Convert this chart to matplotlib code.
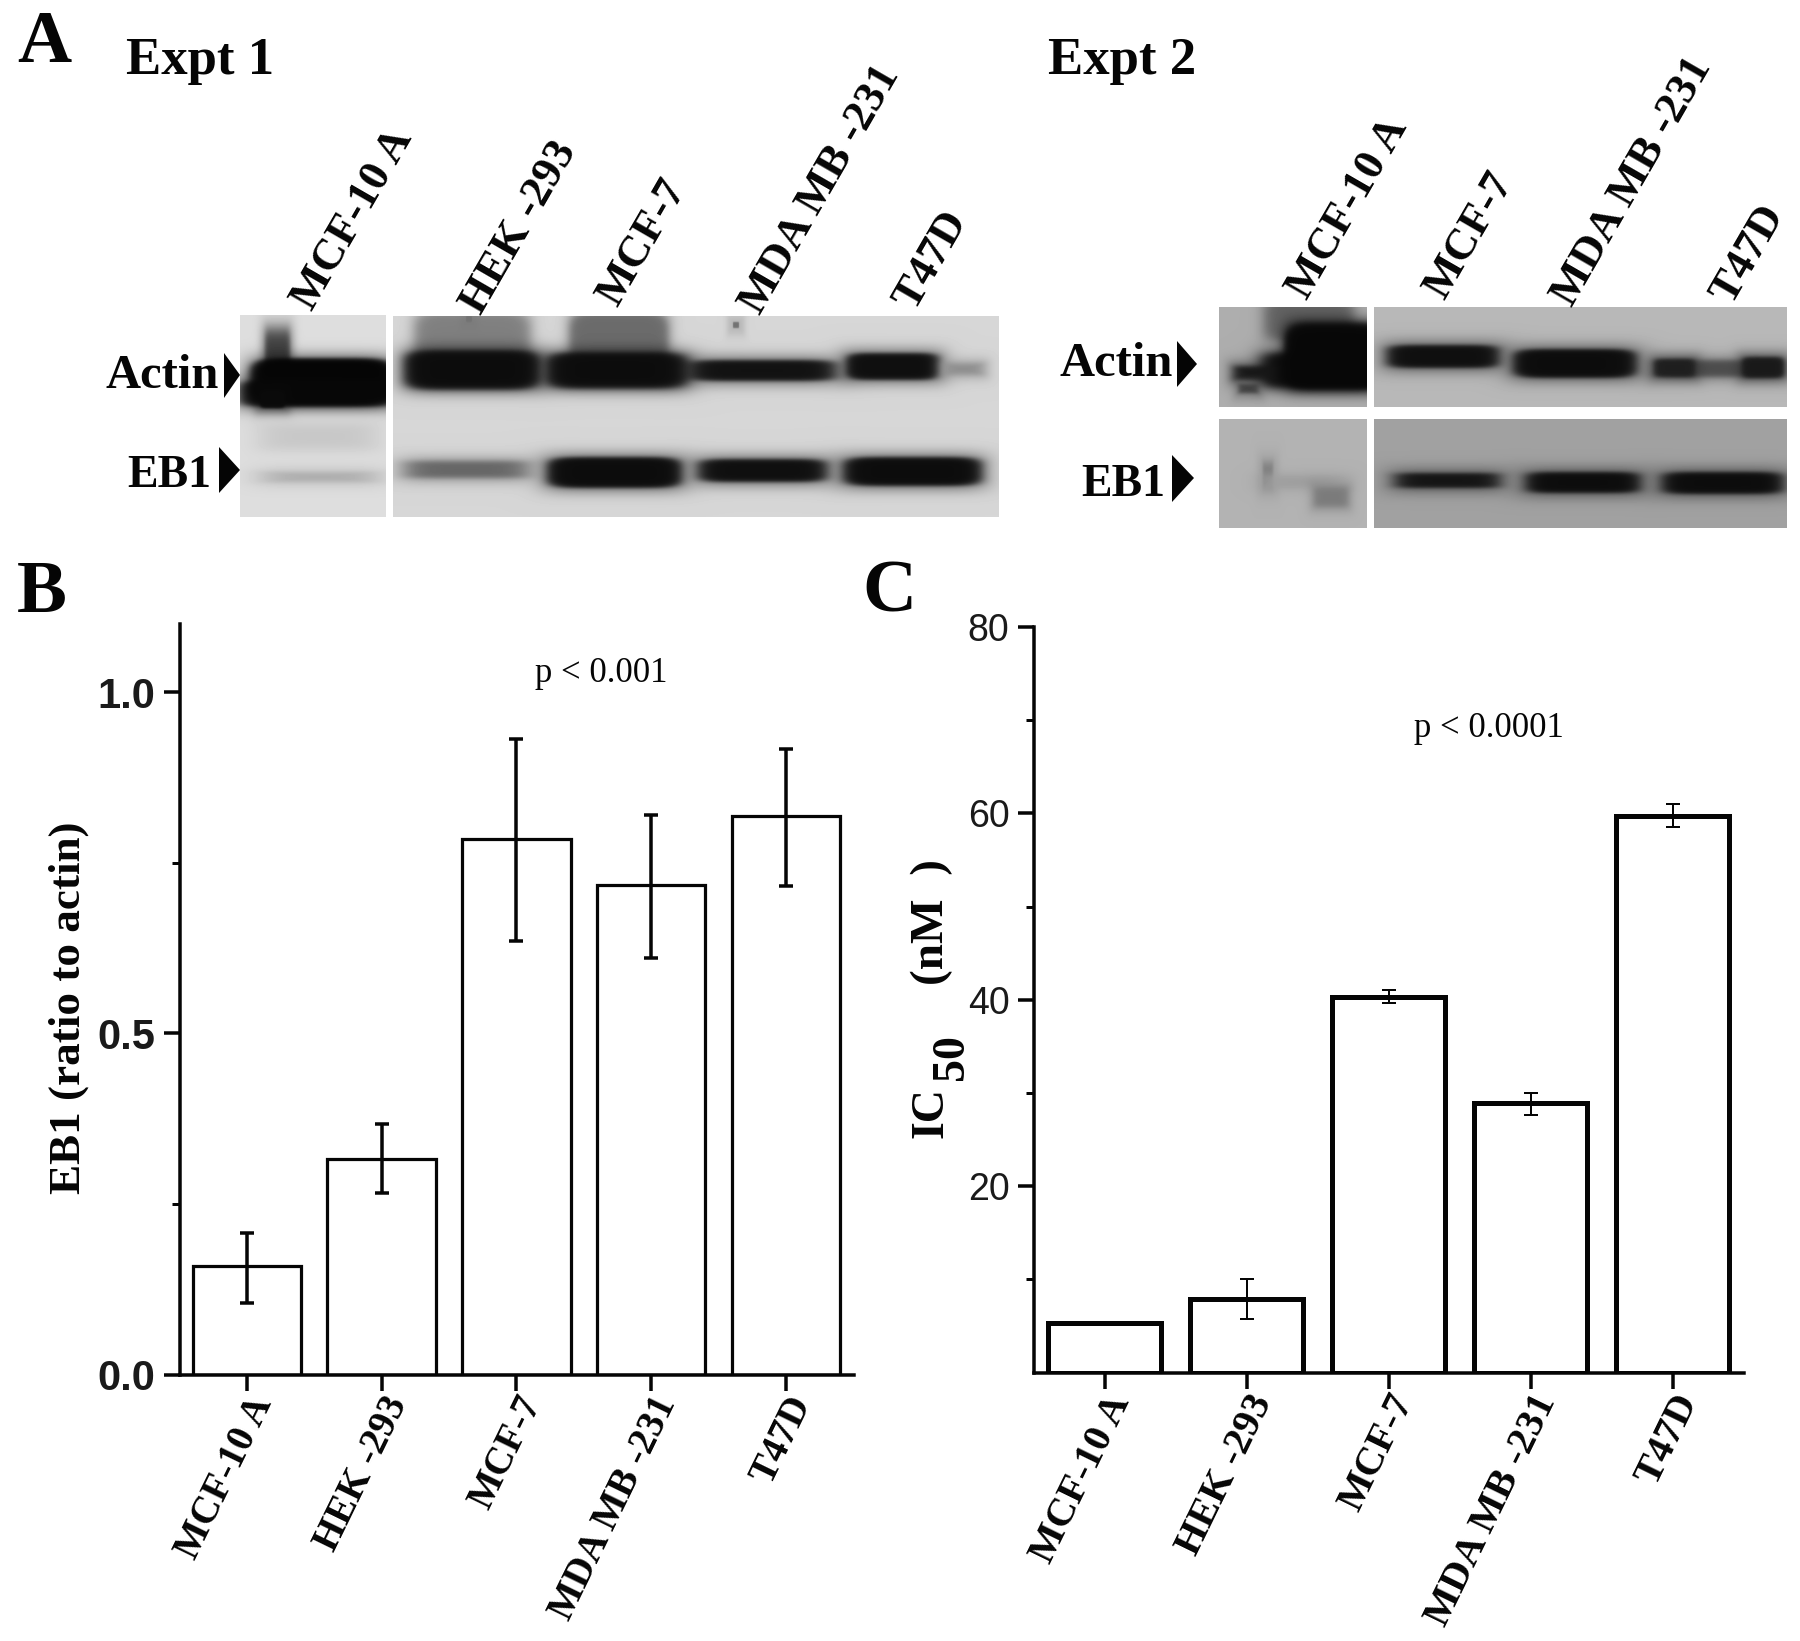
import numpy as np
import matplotlib
matplotlib.use('Agg')
import matplotlib.pyplot as plt
from matplotlib.patches import Polygon

W, H = 1800, 1641
PX = 0.72  # points per pixel at dpi 100
SERIF = 'Liberation Serif'
SANS = 'Liberation Sans'
INK = '#050505'

cell_lines = ['MCF-10 A', 'HEK -293', 'MCF-7', 'MDA MB -231', 'T47D']

# === Panel B values ===
eb1_ratio = [0.159, 0.316, 0.785, 0.717, 0.818]
eb1_low = [0.105, 0.266, 0.635, 0.610, 0.716]
eb1_high = [0.208, 0.367, 0.931, 0.820, 0.917]

# === Panel C values ===
ic50 = [5.3, 7.9, 40.3, 28.9, 59.7]
ic50_low = [5.3, 5.7, 39.7, 27.6, 58.5]
ic50_high = [5.3, 10.05, 41.0, 30.05, 61.0]

# === Blot bands: x0, x1, y0, y1, grey level, edge softness (px) ===
expt1_left = [
    (265, 290, 330, 385, 0.25, 5), (250, 395, 358, 402, 0.02, 3), (240, 395, 380, 407, 0.03, 3),
    (260, 285, 390, 408, 0.04, 2), (265, 372, 425, 448, 0.78, 8), (268, 372, 472, 482, 0.68, 4),
]
expt1_right = [
    (416, 529, 312, 365, 0.50, 6), (570, 668, 312, 365, 0.42, 5), (404, 541, 350, 390, 0.05, 4),
    (545, 688, 352, 389, 0.05, 4), (688, 836, 360, 381, 0.07, 3), (846, 940, 353, 380, 0.06, 3),
    (944, 983, 363, 375, 0.55, 5), (407, 526, 461, 478, 0.40, 4), (547, 682, 457, 488, 0.05, 3),
    (698, 827, 459, 482, 0.06, 3), (843, 982, 457, 486, 0.05, 3),
    (466, 472, 316, 322, 0.45, 1), (733, 739, 322, 328, 0.45, 1),
]
expt2_top_left = [
    (1266, 1352, 300, 340, 0.38, 6), (1284, 1385, 322, 390, 0.03, 5), (1262, 1385, 352, 388, 0.03, 5),
    (1234, 1275, 366, 380, 0.08, 4), (1239, 1258, 384, 393, 0.25, 3),
]
expt2_top_right = [
    (1387, 1499, 345, 368, 0.06, 3), (1513, 1637, 349, 378, 0.05, 3), (1656, 1782, 360, 377, 0.30, 4),
    (1654, 1695, 359, 377, 0.12, 3), (1742, 1784, 357, 378, 0.10, 3),
]
expt2_bottom_left = [
    (1263, 1273, 463, 487, 0.48, 3), (1265, 1340, 476, 488, 0.62, 5), (1314, 1348, 487, 507, 0.48, 5),
]
expt2_bottom_right = [
    (1396, 1499, 473, 488, 0.08, 3), (1526, 1640, 472, 493, 0.05, 3), (1662, 1783, 472, 494, 0.05, 3),
]


def draw_blot(ax, x0, x1, y0, y1, bg, bands):
    xx, yy = np.meshgrid(np.arange(x0, x1) + 0.5, np.arange(y0, y1) + 0.5)
    img = np.full(xx.shape, bg, dtype=float)

    def blob(bx0, bx1, by0, by1, soft):
        # rounded bar, sharp enough in the middle and soft at the rim
        a, b = (bx1 - bx0) / 2, (by1 - by0) / 2
        rx = np.abs(xx - (bx0 + bx1) / 2) / a
        ry = np.abs(yy - (by0 + by1) / 2) / b
        r = (rx ** 6 + ry ** 4) ** (1 / 4)
        return 1 / (1 + np.exp(np.clip((r - 1) * min(a, b) / (soft / 2.5), -30, 30)))

    for bx0, bx1, by0, by1, level, soft in bands:
        halo = blob(bx0 - 5, bx1 + 5, by0 - 6, by1 + 6, 8) * 0.35
        img = img * (1 - halo) + level * halo
        mask = blob(bx0, bx1, by0, by1, soft)
        img = img * (1 - mask) + level * mask
    ax.imshow(img, extent=(x0, x1, y1, y0), cmap='gray', vmin=0, vmax=1,
              aspect='auto', interpolation='bilinear', zorder=1)


def bar_panel(left, right, top, bottom, first_tick, step, bar_w, values, low, high, ymax,
              bar_lw, err_lw, cap_size, label_size):
    ax = fig.add_axes([left / W, 1 - bottom / H, (right - left) / W, (bottom - top) / H])
    x = np.arange(len(values))
    vals = np.array(values)
    err = [vals - np.array(low), np.array(high) - vals]
    ax.bar(x, vals, width=bar_w, facecolor='white', edgecolor=INK, linewidth=bar_lw * PX, zorder=2)
    shown = np.array(high) > vals  # first bar of panel C has no visible error bar
    ax.errorbar(x[shown], vals[shown], yerr=[err[0][shown], err[1][shown]], fmt='none', ecolor=INK,
                elinewidth=err_lw * PX, capsize=cap_size * PX / 2, capthick=err_lw * PX, zorder=3)
    ax.set_xlim((left - first_tick) / step, (right - first_tick) / step)
    ax.set_ylim(0, ymax)
    ax.set_xticks(x)
    ax.set_xticklabels(cell_lines, rotation=64, ha='right', rotation_mode='anchor',
                       family=SERIF, fontweight='bold', fontsize=label_size, color=INK)
    for side in ['top', 'right']:
        ax.spines[side].set_visible(False)
    for side in ['left', 'bottom']:
        ax.spines[side].set_linewidth(3.5 * PX)
        ax.spines[side].set_color(INK)
    ax.spines['bottom'].set_zorder(4)
    ax.tick_params(axis='x', length=16 * PX, width=3.5 * PX, color=INK, pad=0)
    ax.tick_params(axis='y', which='major', length=16 * PX, width=3.5 * PX, color=INK, pad=6)
    ax.tick_params(axis='y', which='minor', length=8 * PX, width=3 * PX, color=INK)
    return ax


fig = plt.figure(figsize=(W / 100, H / 100), dpi=100, facecolor='white')

# overlay in image pixel coordinates for the blots and free labels
ov = fig.add_axes([0, 0, 1, 1])
ov.set_zorder(10)
ov.axis('off')

# === Panel A blots ===
draw_blot(ov, 240, 386, 315, 517, 0.87, expt1_left)
draw_blot(ov, 393, 999, 316, 517, 0.84, expt1_right)
draw_blot(ov, 1219, 1367, 307, 407, 0.68, expt2_top_left)
draw_blot(ov, 1374, 1787, 307, 407, 0.72, expt2_top_right)
draw_blot(ov, 1219, 1367, 419, 528, 0.70, expt2_bottom_left)
draw_blot(ov, 1374, 1787, 419, 528, 0.63, expt2_bottom_right)
ov.set_xlim(0, W)
ov.set_ylim(H, 0)


def serif(x, y, s, size, rotation=0, ha='left', weight='bold', **kw):
    ov.text(x, y, s, family=SERIF, fontweight=weight, fontsize=size, rotation=rotation, ha=ha,
            va='baseline', rotation_mode='anchor', color=INK, zorder=5, **kw)


serif(17, 62, 'A', 54)
serif(17, 612, 'B', 54)
serif(862, 612, 'C', 54)
serif(126, 74, 'Expt 1', 38)
serif(1048, 74, 'Expt 2', 38)

# arrow heads next to the band names
for pts in [[(224, 353), (240, 375), (224, 398)], [(219, 447), (240, 470), (219, 493)],
            [(1177, 341), (1197, 364), (1177, 387)], [(1172, 455), (1194, 478), (1172, 502)]]:
    ov.add_patch(Polygon(pts, closed=True, facecolor=INK, edgecolor='none', zorder=5))

serif(105, 388, 'Actin', 35)
serif(127, 487, 'EB1', 33)
serif(1060, 376, 'Actin', 35)
serif(1081, 496, 'EB1', 33)

# lane labels over the blots
for name, x, y in [('MCF-10 A', 312, 312), ('HEK -293', 481, 316), ('MCF-7', 617, 308),
                   ('MDA MB -231', 760, 316), ('T47D', 914, 312)]:
    serif(x, y, name, 32, rotation=60)
for name, x, y in [('MCF-10 A', 1307, 301), ('MCF-7', 1444, 301), ('MDA MB -231', 1572, 308),
                   ('T47D', 1731, 306)]:
    serif(x, y, name, 32, rotation=60)

# === Panel B ===
axb = bar_panel(179.6, 854, 624.5, 1374.5, 247, 134.7, 0.805, eb1_ratio, eb1_low, eb1_high, 1.099,
                3.2, 3.5, 14, 28)
axb.set_yticks([0.0, 0.5, 1.0])
axb.set_yticks([0.25, 0.75], minor=True)
axb.set_yticklabels(['0.0', '0.5', '1.0'], family=SANS, fontweight='bold', fontsize=30, color='#1a1a1a')
serif(80, 1194, 'EB1 (ratio to actin)', 32.5, rotation=90)
serif(535, 682, 'p < 0.001', 25, weight='normal')

# === Panel C ===
axc = bar_panel(1033.8, 1744, 626.5, 1372.6, 1104.5, 142, 0.8, ic50, ic50_low, ic50_high, 80.05,
                5, 2, 14, 29)
axc.set_yticks([20, 40, 60, 80])
axc.set_yticks([10, 30, 50, 70], minor=True)
axc.set_yticklabels(['20', '40', '60', '80'], family=SANS, fontsize=27, color='#1a1a1a')
serif(943, 1138, 'IC', 33, rotation=90)
serif(963, 1080, '50', 33, rotation=90)
serif(943, 985, '(nM  )', 34, rotation=90)
serif(1414, 737, 'p < 0.0001', 25, weight='normal')

fig.savefig('out.png', dpi=100)
